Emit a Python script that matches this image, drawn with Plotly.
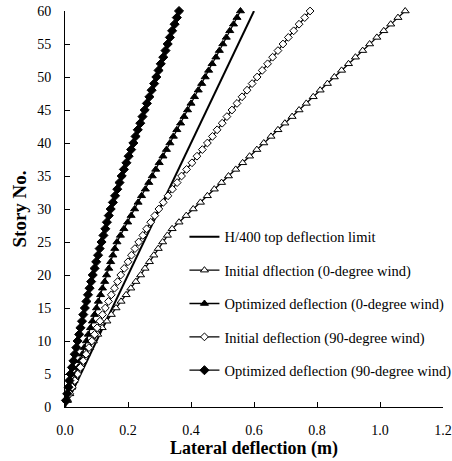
import plotly.graph_objects as go

stories = list(range(1, 61))

limit_story = [0, 60]
limit_defl = [0.0, 0.6]

init_0deg = [0.008, 0.015, 0.022, 0.028, 0.035, 0.045, 0.056, 0.067, 0.078, 0.09,
             0.104, 0.118, 0.133, 0.147, 0.162, 0.178, 0.194, 0.209, 0.225, 0.24,
             0.254, 0.268, 0.282, 0.296, 0.31, 0.325, 0.34, 0.362, 0.385, 0.407,
             0.43, 0.452, 0.474, 0.497, 0.519, 0.542, 0.564, 0.586, 0.609, 0.631,
             0.654, 0.676, 0.698, 0.721, 0.743, 0.766, 0.788, 0.81, 0.833, 0.855,
             0.878, 0.9, 0.922, 0.945, 0.967, 0.99, 1.012, 1.034, 1.057, 1.08]

opt_0deg = [0.007, 0.014, 0.021, 0.028, 0.035, 0.042, 0.048, 0.055, 0.061, 0.068,
            0.074, 0.081, 0.087, 0.094, 0.1, 0.106, 0.113, 0.119, 0.126, 0.132,
            0.139, 0.145, 0.152, 0.158, 0.165, 0.176, 0.187, 0.199, 0.21, 0.221,
            0.232, 0.243, 0.255, 0.266, 0.277, 0.288, 0.299, 0.311, 0.322, 0.333,
            0.344, 0.355, 0.367, 0.378, 0.389, 0.4, 0.411, 0.423, 0.434, 0.445,
            0.456, 0.467, 0.479, 0.49, 0.501, 0.512, 0.523, 0.535, 0.546, 0.557]

init_90deg = [0.007, 0.015, 0.023, 0.031, 0.04, 0.049, 0.058, 0.067, 0.076, 0.085,
              0.094, 0.102, 0.111, 0.119, 0.128, 0.138, 0.147, 0.157, 0.167, 0.177,
              0.188, 0.2, 0.211, 0.222, 0.234, 0.247, 0.259, 0.272, 0.285, 0.298,
              0.312, 0.327, 0.341, 0.356, 0.37, 0.386, 0.403, 0.419, 0.436, 0.452,
              0.468, 0.483, 0.499, 0.514, 0.53, 0.546, 0.562, 0.578, 0.594, 0.61,
              0.626, 0.643, 0.659, 0.676, 0.692, 0.709, 0.726, 0.743, 0.761, 0.778]

opt_90deg = [0.003, 0.007, 0.011, 0.014, 0.018, 0.022, 0.027, 0.031, 0.036, 0.04,
             0.045, 0.049, 0.054, 0.058, 0.063, 0.068, 0.073, 0.078, 0.083, 0.088,
             0.094, 0.099, 0.105, 0.11, 0.116, 0.122, 0.128, 0.133, 0.139, 0.145,
             0.152, 0.159, 0.166, 0.173, 0.18, 0.187, 0.195, 0.202, 0.21, 0.217,
             0.224, 0.231, 0.239, 0.246, 0.253, 0.26, 0.268, 0.275, 0.283, 0.29,
             0.297, 0.304, 0.312, 0.319, 0.326, 0.333, 0.34, 0.348, 0.355, 0.362]

names = ["H/400 top deflection limit",
         "Initial dflection (0-degree wind)",
         "Optimized deflection (0-degree wind)",
         "Initial deflection (90-degree wind)",
         "Optimized deflection (90-degree wind)"]

x_ticks = [0.0, 0.2, 0.4, 0.6, 0.8, 1.0, 1.2]
y_ticks = list(range(0, 61, 5))

FONT = "Liberation Serif"

fig = go.Figure()
fig.add_trace(go.Scatter(x=limit_defl, y=limit_story, mode="lines", name=names[0],
                         line=dict(color="black", width=2), legendgroup="g0",
                         cliponaxis=False))
series = [
    (init_0deg, "triangle-up", "white", 7, names[1]),
    (opt_0deg, "triangle-up", "black", 7, names[2]),
    (init_90deg, "diamond", "white", 6, names[3]),
    (opt_90deg, "diamond", "black", 7, names[4]),
]
for i, (vals, sym, fill, size, nm) in enumerate(series):
    fig.add_trace(go.Scatter(
        x=vals, y=stories, mode="lines+markers", name=nm,
        line=dict(color="black", width=1.3),
        marker=dict(symbol=sym, color=fill, size=size,
                    line=dict(color="black", width=1)),
        legendgroup=f"g{i+1}", cliponaxis=False))

fig.update_layout(
    width=452, height=461,
    margin=dict(l=65, r=9, t=11, b=54, autoexpand=False),
    paper_bgcolor="white", plot_bgcolor="white",
    font=dict(family=FONT, size=14, color="black"),
    showlegend=True,
    legend=dict(x=0.316, xanchor="left", y=0.47, yanchor="top",
                bgcolor="rgba(0,0,0,0)", borderwidth=0,
                font=dict(family=FONT, size=14.5, color="black"),
                tracegroupgap=11.5, itemwidth=30),
    xaxis=dict(range=[0, 1.2], tickvals=x_ticks, tickformat=".1f",
               showgrid=False, zeroline=False, showline=True,
               linecolor="black", linewidth=1,
               ticks="inside", ticklen=5, tickcolor="black",
               ticklabelstandoff=10, automargin=False,
               title=dict(text="<b>Lateral deflection (m)</b>",
                          font=dict(family=FONT, size=18), standoff=4)),
    yaxis=dict(range=[0, 60], tickvals=y_ticks,
               showgrid=False, zeroline=False, showline=True,
               linecolor="black", linewidth=1,
               ticks="inside", ticklen=5, tickcolor="black",
               ticklabelstandoff=10, automargin=False,
               title=dict(text="<b>Story No.</b>",
                          font=dict(family=FONT, size=19), standoff=5)),
)

fig.write_html("out.html")
